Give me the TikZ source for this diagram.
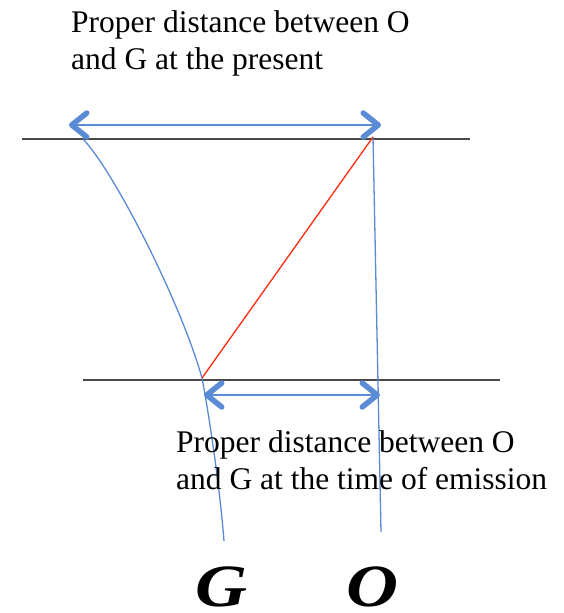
\documentclass[tikz,border=0pt]{standalone}
\usepackage{fontspec}
\setmainfont{Liberation Serif}
\usetikzlibrary{arrows.meta}
\definecolor{wblue}{HTML}{5A8AD4}
\definecolor{ablue}{HTML}{5B8BD5}
\definecolor{hline}{HTML}{4A4A4A}
\definecolor{ray}{HTML}{FF2A10}
\tikzset{
  slice/.style={draw=hline, line width=2.2pt},
  world/.style={draw=wblue, line width=1.3pt},
  lightray/.style={draw=ray, line width=1.3pt},
  dist/.style={draw=ablue, line width=2.6pt,
    {Straight Barb[length=15pt,width=24pt,line width=5.5pt,round]}-{Straight Barb[length=15pt,width=24pt,line width=5.5pt,round]}},
  lbl/.style={font=\fontsize{31.5}{37}\selectfont, align=left, inner sep=0pt},
  big/.style={font=\fontsize{60}{60}\selectfont\bfseries\itshape, inner sep=0pt, xscale=1.2}
}
\begin{document}
\begin{tikzpicture}[x=1pt,y=-1pt]
\useasboundingbox (0,0) rectangle (564,613);
% time slices
\coordinate (t1) at (22,139);
\coordinate (t2) at (470,139);
\coordinate (b1) at (83,380);
\coordinate (b2) at (500,380);
\path[slice] (t1) -- (t2);
\path[slice] (b1) -- (b2);
% world lines
\coordinate (Gnow) at (83,139);
\coordinate (Gem) at (202,378);
\coordinate (Gend) at (224,541);
\coordinate (Onow) at (373,137);
\coordinate (Oend) at (381,532);
\path[world] (Gnow) .. controls (113,170) and (180,300) .. (Gem)
                    .. controls (210,420) and (220,490) .. (Gend);
\path[world] (Onow) -- (Oend);
% light ray
\path[lightray] (Gem) -- (Onow);
% distance arrows
\coordinate (a1) at (69,125);
\coordinate (a2) at (381,125);
\coordinate (c1) at (204,395);
\coordinate (c2) at (380,395);
\path[dist] (a1) -- (a2);
\path[dist] (c1) -- (c2);
% labels
\node[lbl, anchor=base west] (top) at (71,69) {Proper distance between O\\and G at the present};
\node[lbl, anchor=base west] (bot) at (176,489) {Proper distance between O\\and G at the time of emission};
\node[big, anchor=base west] (G) at (195,606) {G};
\node[big, anchor=base west] (O) at (346,606) {O};
\end{tikzpicture}
\end{document}
